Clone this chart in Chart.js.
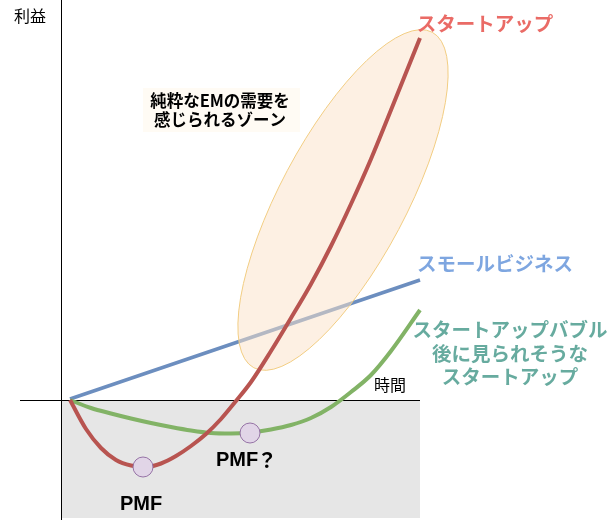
<!DOCTYPE html>
<html>
<head>
<meta charset="utf-8">
<script src="https://cdn.jsdelivr.net/npm/chart.js@4.4.0/dist/chart.umd.min.js"></script>
<style>
  html, body { margin: 0; padding: 0; background: #fff; }
  #wrap { width: 615px; height: 522px; }
</style>
</head>
<body>
<div id="wrap"><canvas id="chart" width="615" height="522"></canvas></div>
<script>
// time (x) vs profit (y), arbitrary units (origin = axes cross)
const startupTime   = [0.9, 2.5, 4, 5.5, 7, 8.5, 10, 11.5, 13, 14.5, 16, 17.5, 19, 21, 23, 25, 27, 29, 31, 33, 35.9];
const startupProfit = [0, -2.9, -4.8, -6.0, -6.55, -6.7, -6.35, -5.6, -4.6, -3.4, -1.9, -0.1, 1.8, 4.9, 8.2, 11.6, 15.4, 19.6, 24.1, 29.0, 36.2];

const smallBizTime   = [0.9, 35.9];
const smallBizProfit = [0.1, 12];

const bubbleTime   = [0.9, 3, 5, 7, 9, 11, 13, 15, 17, 19, 21, 23, 25, 27, 29, 31, 33, 35.9];
const bubbleProfit = [0, -0.8, -1.35, -1.85, -2.3, -2.7, -3.05, -3.3, -3.35, -3.25, -2.95, -2.5, -1.8, -0.7, 0.8, 2.5, 4.9, 9];

const pmfTime   = [8.2, 18.9];
const pmfProfit = [-6.7, -3.3];
const pmfLabels = ["PMF", "PMF？"];

const toXY = (xs, ys) => xs.map((x, i) => ({ x: x, y: ys[i] }));

const JP = "'Noto Sans CJK JP', 'Noto Sans', sans-serif";
const LAT = "'Liberation Sans', Arial, sans-serif";

// background box, axes, ellipse and all the texts
const diagram = {
  id: "diagram",
  beforeDatasetsDraw(chart) {
    const { ctx, scales: { x, y } } = chart;
    ctx.save();
    // loss zone
    ctx.fillStyle = "#e6e6e6";
    const l = x.getPixelForValue(0), r = x.getPixelForValue(35.9);
    const t = y.getPixelForValue(0), b = y.getPixelForValue(-11.8);
    ctx.fillRect(l, t, r - l, b - t);
    // axes
    ctx.strokeStyle = "#000";
    ctx.lineWidth = 1;
    ctx.beginPath();
    ctx.moveTo(Math.round(l) + 0.5, 0);
    ctx.lineTo(Math.round(l) + 0.5, y.getPixelForValue(-12));
    ctx.moveTo(x.getPixelForValue(-4.1), Math.round(t) + 0.5);
    ctx.lineTo(r, Math.round(t) + 0.5);
    ctx.stroke();
    ctx.restore();
  },
  beforeDatasetDraw(chart, args) {
    if (args.index !== 0) return;
    // "pure EM demand" zone, drawn over the blue line but under the red one
    const { ctx, scales: { x, y } } = chart;
    const cx = x.getPixelForValue(28.2), cy = y.getPixelForValue(20);
    const unit = x.getPixelForValue(1) - x.getPixelForValue(0);
    ctx.save();
    ctx.beginPath();
    ctx.ellipse(cx, cy, 6.3 * unit, 19 * unit, 28 * Math.PI / 180, 0, Math.PI * 2);
    ctx.fillStyle = "rgba(251, 225, 200, 0.5)";
    ctx.fill();
    ctx.strokeStyle = "#f2cd82";
    ctx.lineWidth = 1;
    ctx.stroke();
    ctx.restore();
  },
  afterDatasetsDraw(chart) {
    const { ctx, scales: { x, y } } = chart;
    const px = v => x.getPixelForValue(v);
    const py = v => y.getPixelForValue(v);
    ctx.save();
    ctx.textAlign = "center";
    ctx.textBaseline = "middle";

    // axis titles
    ctx.fillStyle = "#000";
    ctx.font = "16px " + JP;
    ctx.fillText("利益", 30, 16);
    ctx.fillText("時間", px(32.9), py(1.5));

    // zone label with its pale box
    ctx.fillStyle = "rgb(255, 251, 244)";
    ctx.fillRect(px(8.2), py(31.2), 157, 44);
    ctx.fillStyle = "#000";
    ctx.font = "bold 16.5px " + JP;
    ctx.fillText("純粋なEMの需要を", px(15.9), py(29.9));
    ctx.fillText("感じられるゾーン", px(15.9), py(28));

    // series labels
    ctx.font = "bold 19.5px " + JP;
    ctx.fillStyle = "#ea6b66";
    ctx.fillText("スタートアップ", 485, 24);
    ctx.fillStyle = "#7ea6e0";
    ctx.fillText("スモールビジネス", 495, 264);
    ctx.fillStyle = "#67ab9f";
    ctx.fillText("スタートアップバブル", 510, 330);
    ctx.fillText("後に見られそうな", 510, 354);
    ctx.fillText("スタートアップ", 510, 377);

    // PMF marks
    ctx.fillStyle = "#000";
    ctx.font = "bold 20px " + LAT;
    ctx.fillText(pmfLabels[0], px(pmfTime[0] - 0.2), py(pmfProfit[0] - 3.7));
    ctx.textAlign = "left";
    ctx.fillText("PMF", px(pmfTime[1] - 3.4), py(pmfProfit[1] - 2.7));
    ctx.font = "bold 20px " + JP;
    ctx.fillText("？", px(pmfTime[1] + 0.7), py(pmfProfit[1] - 2.7));
    ctx.restore();
  }
};

new Chart(document.getElementById("chart"), {
  type: "scatter",
  data: {
    datasets: [
      {
        label: "スタートアップ",
        data: toXY(startupTime, startupProfit),
        showLine: true,
        borderColor: "#b85450",
        borderWidth: 4,
        pointRadius: 0,
        cubicInterpolationMode: "monotone",
        order: 1
      },
      {
        label: "スタートアップバブル後に見られそうなスタートアップ",
        data: toXY(bubbleTime, bubbleProfit),
        showLine: true,
        borderColor: "#82b366",
        borderWidth: 4,
        pointRadius: 0,
        cubicInterpolationMode: "monotone",
        order: 2
      },
      {
        label: "スモールビジネス",
        data: toXY(smallBizTime, smallBizProfit),
        showLine: true,
        borderColor: "#6c8ebf",
        borderWidth: 3.5,
        pointRadius: 0,
        order: 3
      },
      {
        label: "PMF",
        data: toXY(pmfTime, pmfProfit),
        showLine: false,
        pointRadius: 10,
        pointBackgroundColor: "#e1d5e7",
        pointBorderColor: "#9673a6",
        pointBorderWidth: 1,
        order: 0
      }
    ]
  },
  options: {
    responsive: false,
    animation: false,
    layout: { padding: 0, autoPadding: false },
    plugins: {
      legend: { display: false },
      tooltip: { enabled: false }
    },
    scales: {
      x: { type: "linear", display: false, min: -6.1, max: 55.4 },
      y: { type: "linear", display: false, min: -12.2, max: 40 }
    }
  },
  plugins: [diagram]
});
</script>
</body>
</html>
